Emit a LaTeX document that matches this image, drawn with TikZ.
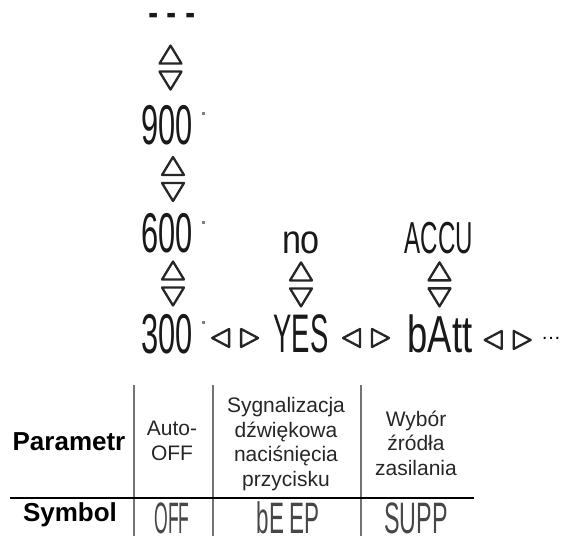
\documentclass[tikz,border=0pt]{standalone}
\usepackage{fontspec}
\setmainfont{Liberation Sans}
\newfontfamily\lcdfont{Liberation Sans}
\usetikzlibrary{calc}
\tikzset{
  lcd/.style={inner sep=0pt, outer sep=0pt, text=black!90, font=\lcdfont\fontsize{56}{56}\selectfont},
  lcdsmall/.style={inner sep=0pt, outer sep=0pt, text=black!72, font=\lcdfont\fontsize{44}{44}\selectfont},
  tri/.style={draw=black!85, line width=2.3pt, line join=round},
  updown/.pic={\draw[tri] (-11,-4) -- (0,-22) -- (11,-4) -- cycle; \draw[tri] (-11,4) -- (0,22) -- (11,4) -- cycle;},
  leftright/.pic={\draw[tri] (-6,-9) -- (-23,0) -- (-6,9) -- cycle; \draw[tri] (6,-9) -- (23,0) -- (6,9) -- cycle;},
  tabtext/.style={inner sep=0pt, align=center, text=black!85, font=\fontsize{21}{24.5}\selectfont},
  headtext/.style={inner sep=0pt, font=\bfseries\fontsize{26}{26}\selectfont},
  gridline/.style={draw=black!55, line width=2pt},
  dotmark/.style={fill=black!50},
}
\begin{document}
\begin{tikzpicture}[x=1pt,y=-1pt]
\useasboundingbox (0,0) rectangle (563,536);
% LCD states
\node[lcd, anchor=base, font=\lcdfont\fontsize{28}{28}\selectfont] (dashes) at (172,30) {\scalebox{1.1}[2]{-~-~-}};
\node[lcd] (n900) at (167,125) {\scalebox{0.55}[1]{900}};
\node[lcd] (n600) at (167,233) {\scalebox{0.55}[1]{600}};
\node[lcd] (n300) at (167,334) {\scalebox{0.55}[1]{300}};
\node[lcd] (no) at (301,243) {\scalebox{0.61}[0.72]{no}};
\node[lcd] (yes) at (301,334) {\scalebox{0.49}[0.97]{YES}};
\node[lcd] (accu) at (439,238) {\scalebox{0.43}[0.8]{ACCU}};
\node[lcd] (batt) at (440,334) {\scalebox{0.65}[0.93]{bAtt}};
\node[inner sep=0pt, anchor=base west, font=\fontsize{20}{20}\selectfont] (more) at (541,339) {…};
% small marks after the numbers
\fill[dotmark] ($(n900.north east)+(9,7)$) rectangle ++(3,3);
\fill[dotmark] ($(n600.north east)+(9,8)$) rectangle ++(3,3);
\fill[dotmark] ($(n300.north east)+(9,7)$) rectangle ++(3,3);
% up/down connectors
\pic at ($(dashes.south)!0.5!(n900.north)+(1,0)$) {updown};
\pic at ($(n900.south)!0.5!(n600.north)+(6,0)$) {updown};
\pic at ($(n600.south)!0.5!(n300.north)+(6,0)$) {updown};
\pic at ($(no.south)!0.5!(yes.north)$) {updown};
\pic at ($(accu.south)!0.5!(batt.north)$) {updown};
% left/right connectors
\pic at ($(n300.east)!0.5!(yes.west)+(2,4)$) {leftright};
\pic at ($(yes.east)!0.5!(batt.west)+(-2,4)$) {leftright};
\pic at ($(batt.east)!0.5!(more.west)+(1,4)$) {leftright};
% table
\draw[gridline] (134,385) -- (134,536);
\draw[gridline] (213,385) -- (213,536);
\draw[gridline] (361,385) -- (361,536);
\draw[black, line width=1.6pt] (10,498) -- (474,498);
\node[headtext, anchor=base] (param) at (69,450) {Parametr};
\node[headtext, anchor=base] (symb) at (70,521) {Symbol};
\node[tabtext] (auto) at (172,441) {Auto-\\OFF};
\node[tabtext] (sygn) at (286,444) {Sygnalizacja\\dźwiękowa\\naciśnięcia\\przycisku};
\node[tabtext] (wyb) at (416,443) {Wybór\\źródła\\zasilania};
\node[lcdsmall] (off) at (172,518) {\scalebox{0.4}[1]{OFF}};
\node[lcdsmall] (beep) at (288,518) {\scalebox{0.51}[1]{bE\hspace{10pt}EP}};
\node[lcdsmall] (supp) at (416,518) {\scalebox{0.53}[1]{SUPP}};
\end{tikzpicture}
\end{document}
